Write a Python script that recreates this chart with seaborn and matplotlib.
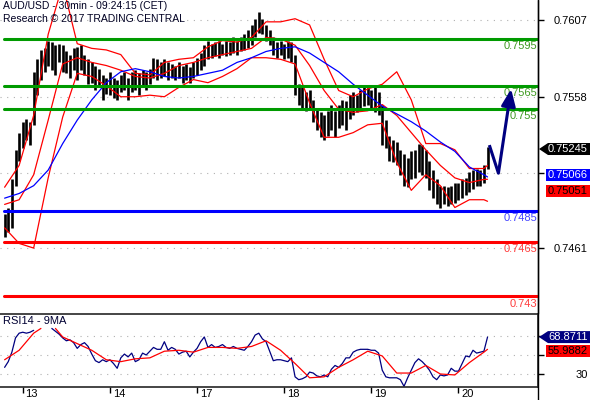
import numpy as np
import pandas as pd
import matplotlib
matplotlib.use("Agg")
import matplotlib.pyplot as plt
import matplotlib.transforms as mtrans
from matplotlib.patches import Polygon
from matplotlib.lines import Line2D
import seaborn as sns

sns.set_style("white")
plt.rcParams['font.family'] = ['Liberation Sans', 'DejaVu Sans']

# Bars (one per hour, index = bar number)
bar_high = [0.7483, 0.7487, 0.7505, 0.7524, 0.7535, 0.7542, 0.7544, 0.7542, 0.7574, 0.7582,
            0.7588, 0.7589, 0.7594, 0.7593, 0.7591, 0.7592, 0.7591, 0.7587, 0.7585, 0.7589,
            0.7590, 0.7591, 0.7585, 0.7582, 0.7580, 0.7578, 0.7576, 0.7572, 0.7570, 0.7574,
            0.7570, 0.7569, 0.7572, 0.7574, 0.7570, 0.7574, 0.7575, 0.7573, 0.7575, 0.7574,
            0.7576, 0.7583, 0.7582, 0.7580, 0.7582, 0.7580, 0.7579, 0.7578, 0.7580, 0.7578,
            0.7579, 0.7577, 0.7580, 0.7583, 0.7586, 0.7591, 0.7594, 0.7592, 0.7593, 0.7594,
            0.7592, 0.7594, 0.7593, 0.7596, 0.7594, 0.7596, 0.7598, 0.7601, 0.7604, 0.7608,
            0.7612, 0.7608, 0.7604, 0.7601, 0.7596, 0.7593, 0.7594, 0.7592, 0.7594, 0.7593,
            0.7585, 0.7566, 0.7564, 0.7561, 0.7562, 0.7556, 0.7551, 0.7548, 0.7546, 0.7549,
            0.7553, 0.7549, 0.7553, 0.7556, 0.7555, 0.7559, 0.7561, 0.7559, 0.7562, 0.7564,
            0.7564, 0.7562, 0.7564, 0.7561, 0.7553, 0.7543, 0.7533, 0.7530, 0.7529, 0.7524,
            0.7521, 0.7519, 0.7523, 0.7524, 0.7528, 0.7527, 0.7524, 0.7517, 0.7511, 0.7505,
            0.7501, 0.7501, 0.7500, 0.7501, 0.7503, 0.7503, 0.7505, 0.7506, 0.7510, 0.7511,
            0.7512, 0.7511, 0.7514, 0.7526]
bar_low = [0.7468, 0.7471, 0.7474, 0.7501, 0.7517, 0.7525, 0.7530, 0.7527, 0.7540, 0.7559,
           0.7569, 0.7574, 0.7578, 0.7575, 0.7572, 0.7580, 0.7574, 0.7573, 0.7570, 0.7575,
           0.7569, 0.7575, 0.7572, 0.7566, 0.7567, 0.7562, 0.7564, 0.7556, 0.7560, 0.7559,
           0.7557, 0.7556, 0.7561, 0.7562, 0.7556, 0.7561, 0.7562, 0.7559, 0.7564, 0.7562,
           0.7566, 0.7570, 0.7569, 0.7570, 0.7571, 0.7569, 0.7570, 0.7569, 0.7570, 0.7567,
           0.7569, 0.7567, 0.7570, 0.7572, 0.7575, 0.7578, 0.7582, 0.7583, 0.7584, 0.7583,
           0.7585, 0.7584, 0.7585, 0.7586, 0.7585, 0.7587, 0.7588, 0.7589, 0.7591, 0.7596,
           0.7599, 0.7598, 0.7594, 0.7591, 0.7585, 0.7583, 0.7585, 0.7582, 0.7583, 0.7580,
           0.7559, 0.7553, 0.7551, 0.7549, 0.7551, 0.7542, 0.7537, 0.7532, 0.7530, 0.7533,
           0.7537, 0.7532, 0.7538, 0.7540, 0.7537, 0.7544, 0.7546, 0.7548, 0.7551, 0.7552,
           0.7553, 0.7551, 0.7548, 0.7546, 0.7527, 0.7525, 0.7517, 0.7516, 0.7514, 0.7508,
           0.7501, 0.7500, 0.7505, 0.7506, 0.7510, 0.7508, 0.7506, 0.7498, 0.7493, 0.7489,
           0.7487, 0.7489, 0.7488, 0.7489, 0.7490, 0.7492, 0.7493, 0.7495, 0.7497, 0.7499,
           0.7501, 0.7501, 0.7503, 0.7512]
last_close = 0.75245

# Bollinger bands and moving average, read every 4 bars
band_idx = list(range(0, 133, 4)) + [133]
bb_upper = [0.7500, 0.7514, 0.7546, 0.7598, 0.7630, 0.7592, 0.7589, 0.7588, 0.7585, 0.7573,
            0.7572, 0.7580, 0.7582, 0.7583, 0.7590, 0.7594, 0.7593, 0.7596, 0.7606, 0.7606,
            0.7608, 0.7604, 0.7582, 0.7562, 0.7558, 0.7563, 0.7566, 0.7574, 0.7556, 0.7528,
            0.7528, 0.7524, 0.7512, 0.7512, 0.7514]
bb_mid = [0.7489, 0.7492, 0.7508, 0.7543, 0.7579, 0.7583, 0.7580, 0.7578, 0.7575, 0.7571,
          0.7570, 0.7573, 0.7578, 0.7580, 0.7583, 0.7585, 0.7587, 0.7589, 0.7596, 0.7595,
          0.7591, 0.7578, 0.7562, 0.7550, 0.7548, 0.7549, 0.7553, 0.7546, 0.7535, 0.7524,
          0.7514, 0.7506, 0.7503, 0.7505, 0.75051]
bb_lower = [0.7474, 0.7464, 0.7461, 0.7506, 0.7545, 0.7573, 0.7571, 0.7565, 0.7558, 0.7558,
            0.7559, 0.7558, 0.7564, 0.7569, 0.7567, 0.7571, 0.7576, 0.7583, 0.7583, 0.7582,
            0.7579, 0.7554, 0.7532, 0.7532, 0.7535, 0.7540, 0.7541, 0.7516, 0.7498, 0.7508,
            0.7501, 0.7487, 0.7492, 0.7492, 0.7491]
ma_blue = [0.7493, 0.7496, 0.7501, 0.7511, 0.7528, 0.7543, 0.7556, 0.7567, 0.7574, 0.7576,
           0.7574, 0.7571, 0.7570, 0.7571, 0.7573, 0.7575, 0.7580, 0.7583, 0.7587, 0.7589,
           0.7590, 0.7586, 0.7580, 0.7574, 0.7566, 0.7559, 0.7552, 0.7547, 0.7542, 0.7536,
           0.7529, 0.7523, 0.7513, 0.7508, 0.75066]

# Support / resistance levels
levels = [0.7595, 0.7565, 0.755, 0.7485, 0.7465, 0.743]
level_labels = ['0.7595', '0.7565', '0.755', '0.7485', '0.7465', '0.743']
level_colors = ['#009a00', '#009a00', '#009a00', '#0000ff', '#ff0000', '#ff0000']
level_text_colors = ['#3f9a22', '#3f9a22', '#3f9a22', '#4444ff', '#ff3c3c', '#ff3c3c']

# Forecast path
forecast_idx = [133.5, 136, 139.5]
forecast_px = [0.7527, 0.7509, 0.7563]

# RSI14 and its 9 MA
rsi = [37, 43, 53, 68, 73, 74, 73, 74, 76, np.nan,
       np.nan, np.nan, np.nan, 78, 75, 72, 68, 65, 66, 63,
       57, 61, 63, 59, 51, 44, 42, 45, 43, 45,
       41, 36, 47, 51, 48, 52, 43, 45, 52, 50,
       54, 58, 56, 56, 64, 55, 58, 56, 51, 53,
       54, 48, 53, 57, 64, 69, 58, 61, 58, 59,
       61, 58, 57, 59, 57, 56, 55, 59, 64, 71,
       73, 67, 64, 54, 44, 45, 45, 44, 43, 47,
       27, 24, 25, 27, 32, 31, 28, 27, 29, 27,
       35, 39, 37, 41, 47, 47, 53, 55, 56, 56,
       56, 55, 55, 52, 34, 27, 26, 26, 26, 24,
       17, 26, 34, 42, 46, 43, 39, 34, 27, 24,
       29, 28, 29, 36, 33, 33, 41, 49, 48, 55,
       52, 53, 54, 68.8711]
rsi_ma_idx = [0, 4, 8, 10, 12, 14] + list(range(16, 133, 4)) + [133]
rsi_ma = [45, 55, 73, 78, np.nan, 78, 69, 62, 55, 45, 43, 46, 47, 54, 55, 53, 58, 58, 57,
          59, 65, 55, 41, 26, 27, 37, 45, 54, 49, 31, 31, 39, 30, 29, 42, 53, 55.9882]

day_ticks = [5, 29, 53, 77, 101, 125]
day_labels = ['13', '14', '17', '18', '19', '20']
# labels hidden behind the value tags are left blank
price_ticks = [0.7607, 0.7558, 0.7509, 0.7461]
price_tick_labels = ['0.7607', '0.7558', '', '0.7461']
rsi_ticks = [30, 50, 70]
rsi_tick_labels = ['30', '', '']

W, H = 590, 400
fig = plt.figure(figsize=(W / 100, H / 100), dpi=100)
fig.patch.set_facecolor('white')
ax = fig.add_axes([0, 87 / H, 538 / W, 313 / H])
ax2 = fig.add_axes([0, 13 / H, 538 / W, 73 / H])

xlim = (-1.27, 146.9)

# ---- price panel ----
ax.vlines(range(len(bar_high)), bar_low, bar_high, color='black', lw=1.9, zorder=3)
for col, vals in [('#ff0000', bb_upper), ('#ff0000', bb_mid),
                  ('#ff0000', bb_lower), ('#0000ff', ma_blue)]:
    sns.lineplot(x=band_idx, y=vals, ax=ax, color=col, lw=0.9, zorder=4)

for lev, lab, c, tc in zip(levels, level_labels, level_colors, level_text_colors):
    ax.axhline(lev, xmin=4 / 538, xmax=1, color=c, lw=2.2, zorder=5)
    ax.annotate(lab, xy=(1, lev), xycoords=('axes fraction', 'data'),
                xytext=(-0.5, -1.5), textcoords='offset points',
                ha='right', va='top', color=tc, fontsize=8, zorder=6)

ax.plot(forecast_idx[:2], forecast_px[:2], color='#000080', lw=2.2, zorder=7,
        solid_capstyle='butt')
ax.annotate('', xy=(forecast_idx[2], forecast_px[2]),
            xytext=(forecast_idx[1], forecast_px[1]),
            arrowprops=dict(arrowstyle='-|>,head_length=0.6,head_width=0.25',
                            mutation_scale=17, color='#000080', lw=2.2,
                            shrinkA=0, shrinkB=0), zorder=7)

ax.set_xlim(*xlim)
ax.set_ylim(0.74194, 0.7620)
ax.set_xticks([])
ax.set_xlabel('')
ax.set_ylabel('')
ax.yaxis.tick_right()
ax.set_yticks(price_ticks)
ax.set_yticklabels(price_tick_labels)
ax.tick_params(axis='y', direction='out', length=4, width=1, pad=31.7,
               labelsize=8, colors='black')
plt.setp(ax.get_yticklabels(), ha='right')
ax.yaxis.grid(True, linestyle=(0, (1, 5)), color='#b0b0b0', lw=0.8)
for s in ['left', 'top', 'bottom']:
    ax.spines[s].set_visible(False)
ax.spines['right'].set_linewidth(1.0)

# ---- RSI panel ----
rsi_df = pd.DataFrame({'t': range(len(rsi)), 'v': rsi})
rsi_df['seg'] = rsi_df['v'].isna().cumsum()
rsi_df = rsi_df.dropna()
ma_df = pd.DataFrame({'t': rsi_ma_idx, 'v': rsi_ma})
ma_df['seg'] = ma_df['v'].isna().cumsum()
ma_df = ma_df.dropna()
sns.lineplot(data=rsi_df, x='t', y='v', units='seg', estimator=None,
             color='#000080', lw=0.9, ax=ax2)
sns.lineplot(data=ma_df, x='t', y='v', units='seg', estimator=None,
             color='#ff0000', lw=0.9, ax=ax2)

ax2.set_xlim(*xlim)
ax2.set_ylim(16.3, 93.2)
ax2.set_xlabel('')
ax2.set_ylabel('')
ax2.yaxis.tick_right()
ax2.set_yticks(rsi_ticks)
ax2.set_yticklabels(rsi_tick_labels)
ax2.tick_params(axis='y', direction='out', length=4, width=1, pad=31.7,
                labelsize=8, colors='black')
plt.setp(ax2.get_yticklabels(), ha='right')
ax2.yaxis.grid(True, linestyle=(0, (1, 5)), color='#b0b0b0', lw=0.8)
ax2.set_xticks(day_ticks)
ax2.set_xticklabels(day_labels)
ax2.tick_params(axis='x', direction='out', length=4.3, width=1, pad=-3,
                labelsize=8, colors='black', bottom=True)
shift = mtrans.ScaledTranslation(2 / 72, 0, fig.dpi_scale_trans)
for lab in ax2.get_xticklabels():
    lab.set_ha('left')
    lab.set_transform(lab.get_transform() + shift)
ax2.spines['left'].set_visible(False)
for s in ['top', 'bottom', 'right']:
    ax2.spines[s].set_linewidth(1.2)
ax2.text(0.005, 0.97, 'RSI14 - 9MA', transform=ax2.transAxes, ha='left', va='top',
         fontsize=8, color='#000033')

# right border over full height
fig.add_artist(Line2D([538 / W, 538 / W], [0, 1], color='black', lw=1.0))

# header
fig.text(3 / W, 1 - 1 / H, 'AUD/USD - 30min - 09:24:15 (CET)', ha='left', va='top',
         fontsize=7.5, color='#000022')
fig.text(3 / W, 1 - 14 / H, 'Research \u00a9 2017 TRADING CENTRAL', ha='left', va='top',
         fontsize=7.5, color='#000022')


# value tags on the right
def tag(axis, val, text, fc, tc, arrow=False, dy=0):
    y = axis.transData.transform((0, val))[1] + dy
    h = 12
    if arrow:
        pts = [(539, y), (548, y + h / 2), (590, y + h / 2), (590, y - h / 2), (548, y - h / 2)]
    else:
        pts = [(546, y + h / 2), (590, y + h / 2), (590, y - h / 2), (546, y - h / 2)]
    fig.add_artist(Polygon([(px / W, py / H) for px, py in pts], closed=True,
                           transform=fig.transFigure, fc=fc, ec='none', zorder=10))
    fig.text(588 / W, y / H, text, ha='right', va='center', color=tc,
             fontsize=8, zorder=11)


tag(ax, last_close, '%.5f' % last_close, 'black', 'white', arrow=True)
tag(ax, ma_blue[-1], '%.5f' % ma_blue[-1], '#0000ff', 'white', dy=2)
tag(ax, bb_mid[-1], '%.5f' % bb_mid[-1], '#ff0000', 'black', dy=-12)
tag(ax2, rsi[-1], '%.4f' % rsi[-1], '#000080', 'white', arrow=True)
tag(ax2, rsi_ma[-1], '%.4f' % rsi_ma[-1], '#ff0000', 'black', dy=-2)

fig.savefig('out.png', dpi=100)
